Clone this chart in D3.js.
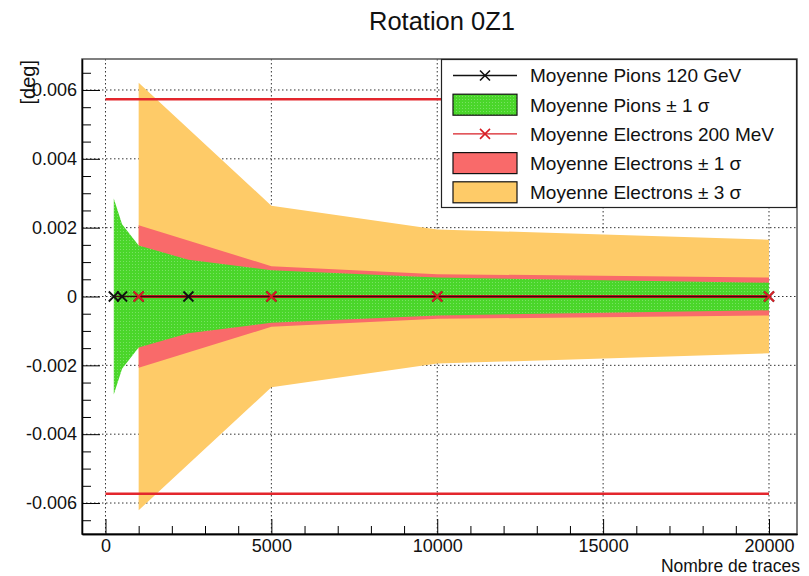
<!DOCTYPE html>
<html>
<head>
<meta charset="utf-8">
<script src="https://cdn.jsdelivr.net/npm/d3@7"></script>
<style>
  body { margin: 0; background: #fff; }
  svg { display: block; font-family: "Liberation Sans", Arial, Helvetica, sans-serif; }
</style>
</head>
<body>
<svg id="chart" width="809" height="576"></svg>
<script>
// Mean rotation and spread versus number of tracks
const pionTraces = [250, 500, 1000, 2500, 5000, 10000, 20000];
const pionMean   = [0, 0, 0, 0, 0, 0, 0];
const pionSigma  = [0.00285, 0.0021, 0.00148, 0.00107, 0.00076, 0.00055, 0.0004];

const elecTraces = [1000, 5000, 10000, 20000];
const elecMean   = [0, 0, 0, 0];
const elecSigma  = [0.00207, 0.00088, 0.00065, 0.00055];

const limitValues = [0.00573, -0.00573];
const limitRange  = [0, 20000];

const xTicks      = [0, 5000, 10000, 15000, 20000];
const xTickLabels = ["0", "5000", "10000", "15000", "20000"];
const yTicks      = [0.006, 0.004, 0.002, 0, -0.002, -0.004, -0.006];
const yTickLabels = ["0.006", "0.004", "0.002", "0", "-0.002", "-0.004", "-0.006"];

const legendLabels = [
  "Moyenne Pions 120 GeV",
  "Moyenne Pions \u00b1 1 \u03c3",
  "Moyenne Electrons 200 MeV",
  "Moyenne Electrons \u00b1 1 \u03c3",
  "Moyenne Electrons \u00b1 3 \u03c3"
];

const colors = {
  pionLine: "#111",
  pionBand: "#4ad62a",
  elecLine: "#d81f26",
  elecBand1: "#f96a6a",
  elecBand3: "#fecb68",
  limit: "#e3262d"
};

const svg = d3.select("#chart");
const frame = { left: 82, right: 797, top: 59, bottom: 534 };

const x = d3.scaleLinear().domain([-708, 20844]).range([frame.left, frame.right]);
const y = d3.scaleLinear().domain([-0.0069, 0.0069]).range([frame.bottom, frame.top]);

// fill pattern for the pion band
const defs = svg.append("defs");
const pat = defs.append("pattern").attr("id", "pionFill")
  .attr("width", 3).attr("height", 3).attr("patternUnits", "userSpaceOnUse");
pat.append("rect").attr("width", 3).attr("height", 3).attr("fill", colors.pionBand);
pat.append("rect").attr("width", 1).attr("height", 1).attr("fill", "#78e262");

// grid
const grid = svg.append("g").attr("stroke", "#333").attr("stroke-width", 1)
  .attr("stroke-dasharray", "1.5,2.5");
grid.selectAll("line.gx").data(xTicks).join("line")
  .attr("x1", d => x(d)).attr("x2", d => x(d))
  .attr("y1", frame.top).attr("y2", frame.bottom);
grid.selectAll("line.gy").data(yTicks).join("line")
  .attr("x1", frame.left).attr("x2", frame.right)
  .attr("y1", d => y(d)).attr("y2", d => y(d));

const pionData = pionTraces.map((t, i) => ({ t, m: pionMean[i], s: pionSigma[i] }));
const elecData = elecTraces.map((t, i) => ({ t, m: elecMean[i], s: elecSigma[i] }));

const band = k => d3.area()
  .x(d => x(d.t))
  .y0(d => y(d.m - k * d.s))
  .y1(d => y(d.m + k * d.s));

svg.append("path").datum(elecData).attr("d", band(3)).attr("fill", colors.elecBand3);
svg.append("path").datum(elecData).attr("d", band(1)).attr("fill", colors.elecBand1);
svg.append("path").datum(pionData).attr("d", band(1)).attr("fill", "url(#pionFill)");

// limit lines
svg.selectAll("line.limit").data(limitValues).join("line")
  .attr("x1", x(limitRange[0])).attr("x2", x(limitRange[1]))
  .attr("y1", d => y(d)).attr("y2", d => y(d))
  .attr("stroke", colors.limit).attr("stroke-width", 2.5);

// mean lines
const meanLine = d3.line().x(d => x(d.t)).y(d => y(d.m));
svg.append("path").datum(elecData).attr("d", meanLine)
  .attr("fill", "none").attr("stroke", colors.elecLine).attr("stroke-width", 3);
svg.append("path").datum(pionData).attr("d", meanLine)
  .attr("fill", "none").attr("stroke", "#3a0a08").attr("stroke-width", 1.6);

const cross = "M-5,-5L5,5M-5,5L5,-5";
svg.selectAll("path.pm").data(pionData).join("path")
  .attr("d", cross).attr("transform", d => `translate(${x(d.t)},${y(d.m)})`)
  .attr("stroke", colors.pionLine).attr("stroke-width", 1.8).attr("fill", "none");
svg.selectAll("path.em").data(elecData).join("path")
  .attr("d", cross).attr("transform", d => `translate(${x(d.t)},${y(d.m)})`)
  .attr("stroke", colors.elecLine).attr("stroke-width", 2).attr("fill", "none");

// frame
svg.append("rect")
  .attr("x", frame.left).attr("y", frame.top)
  .attr("width", frame.right - frame.left).attr("height", frame.bottom - frame.top)
  .attr("fill", "none").attr("stroke", "#555").attr("stroke-width", 1.5);

// axes with inward ticks
const xMinor = d3.range(0, 20001, 1000).filter(v => v % 5000 !== 0);
const yMinor = d3.range(-13, 14).filter(i => i % 4 !== 0).map(i => i * 0.0005);

svg.append("g").attr("transform", `translate(0,${frame.bottom})`)
  .call(d3.axisBottom(x).tickValues(xTicks).tickSizeInner(-15).tickSizeOuter(0)
    .tickPadding(5.5).tickFormat((d, i) => xTickLabels[i]));
svg.append("g").attr("transform", `translate(0,${frame.bottom})`)
  .call(d3.axisBottom(x).tickValues(xMinor).tickSizeInner(-8).tickSizeOuter(0)
    .tickFormat(""));

svg.append("g").attr("transform", `translate(${frame.left},0)`)
  .call(d3.axisLeft(y).tickValues(yTicks).tickSizeInner(-18).tickSizeOuter(0)
    .tickPadding(5).tickFormat((d, i) => yTickLabels[i]));
svg.append("g").attr("transform", `translate(${frame.left},0)`)
  .call(d3.axisLeft(y).tickValues(yMinor).tickSizeInner(-9).tickSizeOuter(0)
    .tickFormat(""));

svg.selectAll(".domain").attr("stroke", "#000").attr("stroke-width", 1.3);
svg.selectAll(".tick line").attr("stroke", "#000").attr("stroke-width", 1);
svg.selectAll(".tick text").attr("font-size", 18).attr("fill", "#111")
  .attr("font-family", "'Liberation Sans', Arial, sans-serif");

// titles
svg.append("text").attr("x", 442).attr("y", 29.5).attr("text-anchor", "middle")
  .attr("font-size", 25.5).attr("fill", "#111").text("Rotation 0Z1");
svg.append("text").attr("x", 800).attr("y", 572).attr("text-anchor", "end")
  .attr("font-size", 17.5).attr("fill", "#111").text("Nombre de traces");
svg.append("text").attr("transform", "translate(35,60) rotate(-90)")
  .attr("text-anchor", "end").attr("font-size", 20).attr("fill", "#111").text("[deg]");

// legend
const lg = svg.append("g");
lg.append("rect").attr("x", 441.5).attr("y", 59.5).attr("width", 355).attr("height", 148)
  .attr("fill", "#fff").attr("stroke", "#222").attr("stroke-width", 1.2);
const rowY = d3.range(5).map(i => 75.5 + i * 29.2);
const symX0 = 453, symX1 = 517;

const legendKinds = [
  { type: "line", stroke: colors.pionLine },
  { type: "box", fill: "url(#pionFill)" },
  { type: "line", stroke: colors.elecLine },
  { type: "box", fill: colors.elecBand1 },
  { type: "box", fill: colors.elecBand3 }
];
legendKinds.forEach((k, i) => {
  const cy = rowY[i];
  if (k.type === "line") {
    lg.append("line").attr("x1", symX0).attr("x2", symX1).attr("y1", cy).attr("y2", cy)
      .attr("stroke", k.stroke).attr("stroke-width", 1.3);
    lg.append("path").attr("d", cross).attr("transform", `translate(${(symX0 + symX1) / 2},${cy})`)
      .attr("stroke", k.stroke).attr("stroke-width", 1.6).attr("fill", "none");
  } else {
    lg.append("rect").attr("x", symX0).attr("y", cy - 10.5).attr("width", symX1 - symX0)
      .attr("height", 21).attr("fill", k.fill).attr("stroke", "#111").attr("stroke-width", 1.2);
  }
  lg.append("text").attr("x", 530).attr("y", cy).attr("dy", "0.36em")
    .attr("font-size", 19).attr("fill", "#111").text(legendLabels[i]);
});
</script>
</body>
</html>
